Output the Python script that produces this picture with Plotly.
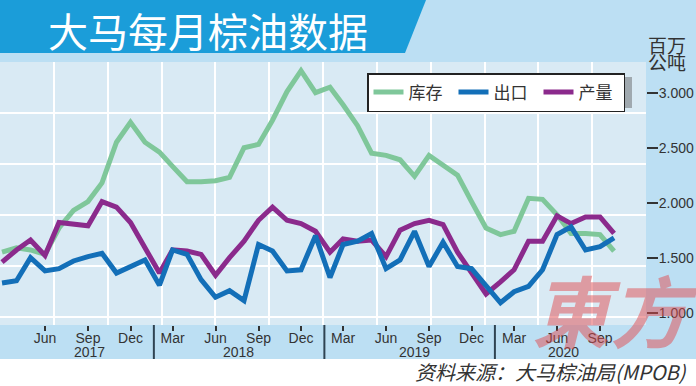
import plotly.graph_objects as go
import pandas as pd

# ---------------- data ----------------
months = pd.date_range("2017-03-01", "2020-10-01", freq="MS")

stock = [1.55, 1.59, 1.57, 1.53, 1.77, 1.93, 2.01, 2.18, 2.55, 2.73,
         2.55, 2.46, 2.33, 2.19, 2.19, 2.20, 2.23, 2.50, 2.53, 2.75, 3.01, 3.20,
         3.00, 3.05, 2.89, 2.70, 2.45, 2.43, 2.39, 2.24, 2.43, 2.34, 2.25, 2.01,
         1.77, 1.71, 1.74, 2.04, 2.03, 1.89, 1.72, 1.72, 1.71, 1.56]

exports = [1.27, 1.29, 1.50, 1.38, 1.40, 1.47, 1.51, 1.54, 1.36, 1.42,
           1.48, 1.25, 1.57, 1.53, 1.30, 1.14, 1.20, 1.11, 1.62, 1.56, 1.38, 1.39,
           1.70, 1.32, 1.62, 1.65, 1.72, 1.40, 1.48, 1.74, 1.42, 1.64, 1.42, 1.40,
           1.24, 1.09, 1.19, 1.24, 1.39, 1.71, 1.78, 1.57, 1.60, 1.68]

production = [1.46, 1.57, 1.66, 1.52, 1.82, 1.81, 1.79, 2.01, 1.96, 1.82,
              1.59, 1.36, 1.57, 1.56, 1.53, 1.34, 1.50, 1.65, 1.84, 1.96, 1.84, 1.81,
              1.74, 1.55, 1.67, 1.65, 1.66, 1.51, 1.75, 1.81, 1.84, 1.80, 1.55, 1.36,
              1.17, 1.28, 1.39, 1.65, 1.65, 1.88, 1.81, 1.87, 1.87, 1.72]

series_names = ["库存", "出口", "产量"]
tick_dates = pd.date_range("2017-06-01", "2020-09-01", freq="3MS")
tick_labels = [d.strftime("%b") for d in tick_dates]
y_ticks = [1.0, 1.5, 2.0, 2.5, 3.0]
years = ["2017", "2018", "2019", "2020"]

# ---------------- style ----------------
GREEN = "#7fc79a"
BLUE = "#136fb8"
PURPLE = "#8b2a8c"
BG = "#bcdff3"
PLOT_BG = "#d9eaf4"
TXT = "#333333"
CJK = "Noto Sans CJK SC"
LAT = "Liberation Sans, Arial, sans-serif"

fig = go.Figure()

# empty trace to anchor decorative grid axes
fig.add_trace(go.Scatter(x=[], y=[], xaxis="x", yaxis="y", showlegend=False, hoverinfo="skip"))

fig.add_trace(go.Scatter(x=months, y=stock, name=series_names[0], mode="lines",
                         line=dict(color=GREEN, width=5), xaxis="x2", yaxis="y2", legendrank=1))
fig.add_trace(go.Scatter(x=months, y=production, name=series_names[2], mode="lines",
                         line=dict(color=PURPLE, width=5), xaxis="x2", yaxis="y2", legendrank=3))
fig.add_trace(go.Scatter(x=months, y=exports, name=series_names[1], mode="lines",
                         line=dict(color=BLUE, width=5), xaxis="x2", yaxis="y2", legendrank=2))

W, H = 696, 386
ml, mr, mt, mb = 0, 50, 62, 61
pw, ph = W - ml - mr, H - mt - mb


def px(xp):
    return (xp - ml) / pw


def py(yp):
    return (H - mb - yp) / ph


shapes = []
# title banner
shapes.append(dict(type="path", xref="paper", yref="paper", layer="below",
                   path=f"M {px(-5)},{py(53)} L {px(405)},{py(53)} L {px(428)},{py(-5)} L {px(-5)},{py(-5)} Z",
                   fillcolor="#1b9dd9", line=dict(width=0)))
# white footer
shapes.append(dict(type="rect", xref="paper", yref="paper", layer="below",
                   x0=px(-5), x1=px(W + 5), y0=py(359), y1=py(H + 5),
                   fillcolor="white", line=dict(width=0)))
# legend drop shadow
shapes.append(dict(type="rect", xref="paper", yref="paper", layer="above",
                   x0=px(371), x1=px(632), y0=py(108), y1=py(77),
                   fillcolor="rgba(90,90,90,0.45)", line=dict(width=0)))
# year separators in the axis band
for yr in years[1:]:
    shapes.append(dict(type="line", xref="x2", yref="paper", layer="above",
                       x0=f"{yr}-01-20", x1=f"{yr}-01-20", y0=py(359), y1=0,
                       line=dict(color="#2f4352", width=2)))

annotations = []
annotations.append(dict(text="大马每月棕油数据", xref="paper", yref="paper", x=px(46), y=py(30),
                        xanchor="left", yanchor="middle", showarrow=False,
                        font=dict(family=CJK, size=40, color="white")))
annotations.append(dict(text="百万", xref="paper", yref="paper", x=px(667), y=py(44),
                        xanchor="center", yanchor="middle", showarrow=False,
                        font=dict(family=CJK, size=19, color=TXT)))
annotations.append(dict(text="公吨", xref="paper", yref="paper", x=px(667), y=py(61),
                        xanchor="center", yanchor="middle", showarrow=False,
                        font=dict(family=CJK, size=19, color=TXT)))
year_pos = ["2017-09-05", "2018-07-20", "2019-08-01", "2020-06-15"]
for yr, xp in zip(years, year_pos):
    annotations.append(dict(text=yr, xref="x2", yref="paper", x=xp, y=py(352),
                            xanchor="center", yanchor="middle", showarrow=False,
                            font=dict(family=LAT, size=14, color=TXT)))
annotations.append(dict(text="资料来源：大马棕油局(MPOB)", xref="paper", yref="paper",
                        x=px(689), y=py(371), xanchor="right", yanchor="middle", showarrow=False,
                        font=dict(family=CJK, size=20, color=TXT, style="italic")))
annotations.append(dict(text="<b>東方</b>", xref="paper", yref="paper",
                        x=px(615), y=py(308), xanchor="center", yanchor="middle", showarrow=False,
                        font=dict(family=CJK, size=78, color="rgba(225,75,80,0.5)", style="italic")))

fig.update_layout(
    width=W, height=H,
    margin=dict(l=ml, r=mr, t=mt, b=mb, pad=0),
    paper_bgcolor=BG, plot_bgcolor=PLOT_BG,
    showlegend=True,
    legend=dict(orientation="h", x=px(367), y=py(73), xanchor="left", yanchor="top",
                bgcolor="white", bordercolor="#222222", borderwidth=1.5,
                font=dict(family=CJK, size=17, color=TXT), itemwidth=30, tracegroupgap=0,
                entrywidth=40),
    xaxis=dict(range=[0, 12], dtick=1, tick0=0, showgrid=True, gridcolor="white", gridwidth=2,
               showticklabels=False, zeroline=False, showline=False, ticks="", fixedrange=True),
    yaxis=dict(range=[-0.157, 5.0],
               dtick=1, tick0=0, showgrid=True, gridcolor="white", gridwidth=2,
               showticklabels=False, zeroline=False, showline=False, ticks="", fixedrange=True),
    xaxis2=dict(overlaying="x", type="date", range=["2017-02-24 16:00", "2020-12-08 10:00"],
                tickvals=tick_dates, ticktext=tick_labels, ticks="outside", ticklen=5,
                tickcolor="#333333", tickwidth=1.5, showgrid=False, zeroline=False, showline=False,
                ticklabelstandoff=-5,
                tickfont=dict(family=LAT, size=14, color=TXT)),
    yaxis2=dict(overlaying="y", side="right", range=[0.888, 3.279], tickvals=y_ticks,
                tickformat=".3f", ticks="outside", ticklen=11, tickcolor="#333333", tickwidth=1.5,
                showgrid=False, zeroline=False, showline=False, ticklabelstandoff=-2,
                tickfont=dict(family=LAT, size=14, color=TXT)),
    shapes=shapes, annotations=annotations,
)

fig.write_html("out.html", config={"displayModeBar": False},
               post_script="document.body.style.margin='0px';document.body.style.padding='0px';")
